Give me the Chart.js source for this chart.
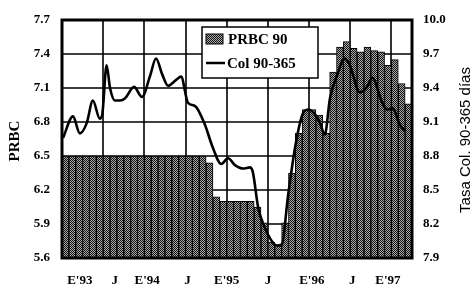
<!DOCTYPE html>
<html>
<head>
<meta charset="utf-8">
<script src="https://cdn.jsdelivr.net/npm/chart.js@4"></script>
<style>
  html, body { margin: 0; padding: 0; background: #fff; }
  #wrap { width: 476px; height: 291px; }
</style>
</head>
<body>
<div id="wrap"><canvas id="c" width="476" height="291"></canvas></div>
<script>
// ---- data (months counted from Jan 1993 = 0) ----
const tickLabels = ["E'93", "J", "E'94", "J", "E'95", "J", "E'96", "J", "E'97"];
// month position under which each tick label is printed in the original
const tickLabelMonths = [2.6, 7.7, 12.4, 18.3, 24.0, 30.0, 36.4, 42.3, 47.5];
const gridStepMonths = 6;
const barLabel = "PRBC 90";
const lineLabel = "Col 90-365";
const leftTitle = "PRBC";
const rightTitle = "Tasa Col. 90-365 días";

// monthly PRBC 90 (left axis), Jan 93 .. Mar 97
const prbcValues = [
  6.50, 6.50, 6.50, 6.50, 6.50, 6.50, 6.50, 6.50, 6.50, 6.50, 6.50, 6.50,
  6.50, 6.50, 6.50, 6.50, 6.50, 6.50, 6.50, 6.50, 6.50, 6.44, 6.14, 6.10,
  6.10, 6.10, 6.10, 6.10, 6.05, 5.91, 5.74, 5.71, 5.91, 6.35, 6.70, 6.91,
  6.91, 6.86, 6.70, 7.24, 7.46, 7.51, 7.45, 7.42, 7.46, 7.43, 7.42, 7.30,
  7.35, 7.14, 6.96
];

// Col 90-365 (right axis), read at irregular positions
const colMonths = [
  0.15, 1.6, 2.6, 3.6, 4.5, 5.5, 5.85, 6.5, 7.0, 7.7, 8.45, 9.2, 10.5, 11.65,
  12.8, 13.7, 14.6, 15.45, 16.6, 17.35, 18.35, 19.4, 20.8, 22.0, 23.2, 24.2,
  25.2, 26.4, 27.4, 27.8, 28.6, 29.6, 30.45, 31.3, 32.05, 32.9, 33.95, 35.0,
  35.85, 36.85, 37.6, 38.3, 39.05, 40.07, 41.2, 41.95, 43.4, 44.45, 45.2,
  46.6, 47.35, 48.2, 49.2, 50.0
];
const colValues = [
  8.96, 9.15, 9.00, 9.09, 9.29, 9.13, 9.16, 9.60, 9.40, 9.29, 9.29, 9.31, 9.41, 9.32,
  9.50, 9.66, 9.52, 9.42, 9.47, 9.50, 9.27, 9.24, 9.08, 8.87, 8.73, 8.78,
  8.72, 8.69, 8.70, 8.66, 8.34, 8.16, 8.06, 8.01, 8.02, 8.43, 8.87, 9.16,
  9.21, 9.17, 9.09, 8.99, 9.31, 9.51, 9.66, 9.60, 9.36, 9.41, 9.49,
  9.28, 9.21, 9.22, 9.08, 9.02
];

// ---- styling helpers ----
function makePattern() {
  const p = document.createElement('canvas');
  p.width = 4; p.height = 4;
  const g = p.getContext('2d');
  g.fillStyle = '#ababab';
  g.fillRect(0, 0, 4, 4);
  g.fillStyle = '#111';
  for (let y = 0; y < 4; y++) {
    for (let x = 0; x < 4; x++) {
      if ((x + y) % 2 === 0) g.fillRect(x, y, 1, 1);
    }
  }
  return g.createPattern(p, 'repeat');
}
const barPattern = makePattern();

const serifBold = { family: "'Liberation Serif', 'DejaVu Serif', serif", size: 13, weight: 'bold' };

// grid drawn behind everything already painted (bars and legend are opaque)
function drawGridBehind(chart) {
  const { ctx, chartArea: a, scales } = chart;
  ctx.save();
  ctx.globalCompositeOperation = 'destination-over';
  ctx.strokeStyle = '#000000';
  ctx.lineWidth = 1.6;
  ctx.beginPath();
  const yt = scales.y.ticks;
  for (let i = 0; i < yt.length; i++) {
    const py = Math.round(scales.y.getPixelForValue(yt[i].value));
    ctx.moveTo(a.left, py);
    ctx.lineTo(a.right, py);
  }
  for (let m = gridStepMonths; m < scales.x.max; m += gridStepMonths) {
    const px = Math.round(scales.x.getPixelForValue(m));
    ctx.moveTo(px, a.top);
    ctx.lineTo(px, a.bottom);
  }
  ctx.stroke();
  ctx.restore();
}

const framePlugin = {
  id: 'frameAndLegend',
  afterDatasetsDraw(chart) {
    const { ctx, chartArea: a } = chart;
    ctx.save();
    ctx.strokeStyle = '#000';
    ctx.lineWidth = 3;
    ctx.strokeRect(a.left, a.top, a.right - a.left, a.bottom - a.top);

    // legend box
    const bx = 202, by = 27, bw = 116, bh = 51;
    ctx.fillStyle = '#fff';
    ctx.fillRect(bx, by, bw, bh);
    ctx.lineWidth = 1.5;
    ctx.strokeRect(bx, by, bw, bh);
    // bar swatch
    ctx.fillStyle = barPattern;
    ctx.fillRect(bx + 4, by + 7, 17, 10);
    ctx.lineWidth = 1;
    ctx.strokeRect(bx + 4, by + 7, 17, 10);
    // line swatch
    ctx.beginPath();
    ctx.lineWidth = 2.5;
    ctx.moveTo(bx + 4, by + 36);
    ctx.lineTo(bx + 23, by + 36);
    ctx.stroke();
    ctx.fillStyle = '#000';
    ctx.font = "bold 15px 'Liberation Serif', serif";
    ctx.textBaseline = 'middle';
    ctx.textAlign = 'left';
    ctx.fillText(barLabel, bx + 26, by + 13);
    ctx.fillText(lineLabel, bx + 25, by + 37);
    ctx.restore();
  },
  afterDraw(chart) {
    const { ctx, chartArea: a } = chart;
    const cy = (a.top + a.bottom) / 2;
    ctx.save();
    ctx.fillStyle = '#000';
    ctx.textAlign = 'center';
    ctx.textBaseline = 'middle';
    ctx.translate(15, cy + 2);
    ctx.rotate(-Math.PI / 2);
    ctx.font = "bold 15px 'Liberation Serif', serif";
    ctx.fillText(leftTitle, 0, 0);
    ctx.restore();
    ctx.save();
    ctx.fillStyle = '#000';
    ctx.textAlign = 'center';
    ctx.textBaseline = 'middle';
    ctx.translate(466, cy + 1);
    ctx.rotate(-Math.PI / 2);
    ctx.font = "15px 'Liberation Sans', Arial, sans-serif";
    ctx.fillText(rightTitle, 0, 0);
    ctx.restore();
    drawGridBehind(chart);
  }
};

new Chart(document.getElementById('c'), {
  type: 'bar',
  data: {
    datasets: [
      {
        type: 'line',
        label: lineLabel,
        data: colMonths.map((m, i) => ({ x: m, y: colValues[i] })),
        yAxisID: 'y1',
        borderColor: '#000',
        borderWidth: 2.6,
        pointRadius: 0,
        tension: 0.35,
        cubicInterpolationMode: 'monotone',
        fill: false,
        order: 0
      },
      {
        type: 'bar',
        label: barLabel,
        data: prbcValues.map((v, i) => ({ x: i + 0.5, y: v })),
        yAxisID: 'y',
        backgroundColor: barPattern,
        borderColor: '#000',
        borderWidth: 1,
        borderSkipped: 'start',
        barPercentage: 1,
        categoryPercentage: 1,
        order: 1
      }
    ]
  },
  options: {
    responsive: false,
    animation: false,
    devicePixelRatio: 1,
    layout: { padding: { top: 20, left: 0, right: 0, bottom: 0 } },
    plugins: { legend: { display: false }, tooltip: { enabled: false } },
    scales: {
      x: {
        type: 'linear',
        position: 'bottom',
        offset: false,
        min: 0,
        max: 51,
        afterFit: s => { s.height = 33; },
        afterBuildTicks: s => { s.ticks = tickLabelMonths.map(v => ({ value: v })); },
        grid: { display: false, drawTicks: false, offset: false },
        border: { display: false },
        ticks: {
          autoSkip: false,
          maxRotation: 0,
          padding: 15,
          color: '#000',
          font: serifBold,
          callback: (v, i) => tickLabels[i]
        }
      },
      y: {
        position: 'left',
        min: 5.6,
        max: 7.7,
        afterFit: s => { s.width = 62; },
        grid: { display: false, drawTicks: false },
        border: { display: false },
        ticks: {
          stepSize: 0.3,
          padding: 12,
          color: '#000',
          font: serifBold,
          callback: v => Number(v).toFixed(1)
        }
      },
      y1: {
        position: 'right',
        min: 7.9,
        max: 10.0,
        afterFit: s => { s.width = 64; },
        grid: { display: false, drawTicks: false },
        border: { display: false },
        ticks: {
          stepSize: 0.3,
          padding: 11,
          color: '#000',
          font: serifBold,
          callback: v => Number(v).toFixed(1)
        }
      }
    }
  },
  plugins: [framePlugin]
});
</script>
</body>
</html>
